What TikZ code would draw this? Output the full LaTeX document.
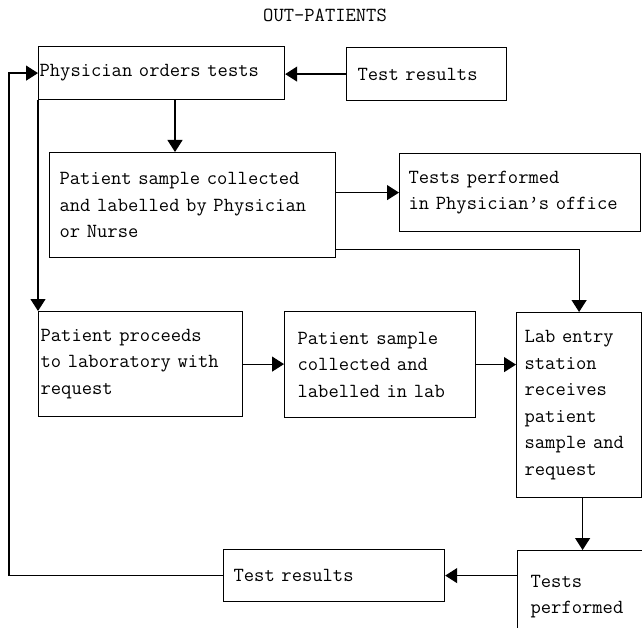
\documentclass[tikz,border=0pt]{standalone}
\usetikzlibrary{arrows.meta,calc}

\begin{document}
\begin{tikzpicture}[x=1pt,y=-1pt,
  font=\ttfamily\fontsize{20}{26.5}\selectfont,
  bx/.style={draw,line width=1.2pt,anchor=north west,align=left,inner ysep=0pt},
  ar/.style={-{Triangle[length=12pt,width=15pt]},line width=1.2pt}]
\useasboundingbox (0,0) rectangle (642,628);
\clip (0,0) rectangle (642,628);
\node (ttl) at (325,15) {OUT-PATIENTS};
% top row
\node[bx,inner xsep=1pt,text width=244pt,minimum height=53pt] (po) at (38,46) {Physician orders tests};
\node[bx,inner xsep=11pt,text width=138pt,minimum height=53pt] (tr) at (346,47) {Test results};
% physician's office
\node[bx,inner xsep=10pt,text width=266pt,minimum height=105pt] (pc) at (49,152)
  {Patient sample collected\\and labelled by Physician\\or Nurse};
\node[bx,inner xsep=9pt,text width=223pt,minimum height=78pt] (tp) at (399,153)
  {Tests performed\\in Physician’s office};
% laboratory
\node[bx,inner xsep=2pt,text width=200pt,minimum height=105pt] (pp) at (38,311)
  {Patient proceeds\\to laboratory with\\request};
\node[bx,inner xsep=13pt,text width=165pt,minimum height=106pt] (pl) at (284,311)
  {Patient sample\\collected and\\labelled in lab};
\node[bx,inner xsep=8pt,text width=109pt,minimum height=185pt] (le) at (516,312)
  {Lab entry\\station\\receives\\patient\\sample and\\request};
% results
\node[bx,inner xsep=10pt,text width=201pt,minimum height=52pt] (rs) at (223,549) {Test results};
\node[bx,inner xsep=13pt,text width=104pt,minimum height=92pt] (pf) at (517,550)
  {Tests\\performed};
\coordinate (lft) at (9,0);
\draw[ar] (tr.west) -- (tr.west -| po.east);
\draw[ar] ([xshift=137pt]po.south west) -- ([xshift=137pt]po.south west |- pc.north);
\draw[ar] (po.south west) -- (pp.north west);
\draw[ar] (pc.east |- tp.west) -- (tp.west);
\draw[ar] ([yshift=9pt]pc.south east) -| (le.north);
\draw[ar] (pp.east) -- (pp.east -| pl.west);
\draw[ar] (pl.east) -- (pl.east -| le.west);
\draw[ar] (le.south -| pf.north) -- (pf.north);
\draw[ar] (rs.east -| pf.west) -- (rs.east);
\draw[ar] (rs.west) -- (lft |- rs.west) -- (lft |- po.west) -- (po.west);
\end{tikzpicture}
\end{document}
